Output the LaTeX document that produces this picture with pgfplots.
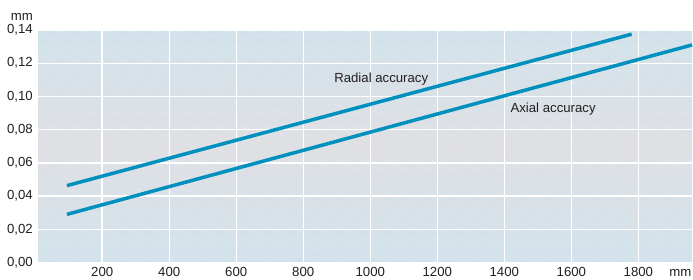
\documentclass[border=0pt]{standalone}
\usepackage{pgfplots}
\pgfplotsset{compat=1.18}
\usepackage{fontspec}
\setmainfont{Liberation Sans}
\usetikzlibrary{patterns.meta}
\definecolor{linecol}{RGB}{0,144,190}
\definecolor{bgblue}{RGB}{210,226,235}
\definecolor{bggrey}{RGB}{223,224,228}
\definecolor{txt}{RGB}{35,31,32}
\begin{document}
\fontsize{13.2}{15}\selectfont
\begin{tikzpicture}
\begin{axis}[
  scale only axis, width=653.5pt, height=232.5pt,
  xmin=10, xmax=1960, ymin=0, ymax=0.14,
  axis line style={draw=none},
  major tick length=0pt,
  xtick={200,400,600,800,1000,1200,1400,1600,1800},
  ytick={0,0.02,0.04,0.06,0.08,0.1,0.12,0.14},
  grid=major,
  major grid style={white, line width=1.4pt},
  axis background/.style={shade, shading angle=-45, bottom color=bgblue, top color=bgblue, middle color=bggrey,
    postaction={transparency group, opacity=0.25, pattern={Lines[angle=-25,distance=10pt,line width=0.4pt]}, pattern color=white}},
  tick label style={font=\fontsize{13.2}{15}\selectfont, text=txt},
  /pgf/number format/assume math mode=true,
  xticklabel style={anchor=base, inner sep=0pt, yshift=-13.8pt, /pgf/number format/1000 sep={}},
  yticklabel style={anchor=east, inner sep=0pt, xshift=-5.5pt, /pgf/number format/.cd, fixed, fixed zerofill, precision=2, use comma},
  scaled y ticks=false,
  clip=false,
]
\addplot[linecol, line width=3.5pt, line cap=butt] coordinates {(95,0.0463) (1780,0.1375)};
\addplot[linecol, line width=3.5pt, line cap=butt] coordinates {(95,0.0290) (1960,0.1310)};
\node[anchor=base west, inner sep=0pt, text=txt] at (axis cs:892,0.1082) {Radial accuracy};
\node[anchor=base west, inner sep=0pt, text=txt] at (axis cs:1418,0.0902) {Axial accuracy};
\node[anchor=base, inner sep=0pt, text=txt] at ([yshift=-13.8pt]axis cs:1925,0) {mm};
\node[anchor=base east, inner sep=0pt, text=txt] at ([xshift=-5.5pt,yshift=10pt]rel axis cs:0,1) {mm};
\coordinate (sw) at (rel axis cs:0,0);
\coordinate (ne) at (rel axis cs:1,1);
\end{axis}
\pgfresetboundingbox
\path ([shift={(-38.5pt,-16.5pt)}]sw) rectangle ([shift={(1pt,30pt)}]ne);
\end{tikzpicture}
\end{document}
